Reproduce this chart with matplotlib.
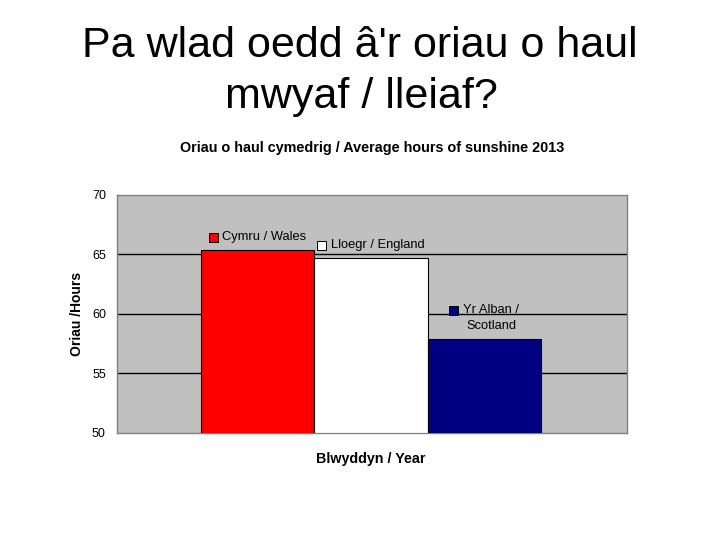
import matplotlib.pyplot as plt
from matplotlib.offsetbox import AnnotationBbox, HPacker, TextArea, DrawingArea
from matplotlib.patches import Rectangle

plt.rcParams['font.family'] = ['Liberation Sans', 'DejaVu Sans']

# Data
countries = ['Cymru / Wales', 'Lloegr / England', 'Yr Alban /\nScotland']
hours = [65.4, 64.7, 57.9]
colors = ['#FF0000', '#FFFFFF', '#000080']
yticks = [50, 55, 60, 65, 70]

fig = plt.figure(figsize=(7.2, 5.4), dpi=100)
ax = fig.add_axes([117 / 720, 1 - 433 / 540, 510 / 720, 238 / 540])

ax.set_facecolor('#C0C0C0')
xs = range(len(countries))
bars = ax.bar(xs, [h - 50 for h in hours], bottom=50, width=1.0,
              color=colors, edgecolor='black', linewidth=0.8, zorder=3)

ax.set_ylim(50, 70)
ax.set_xlim(-1.24, 3.26)
ax.set_yticks(yticks)
ax.set_yticklabels([str(t) for t in yticks], fontsize=9)
ax.set_xticks([])
ax.tick_params(axis='y', length=0, pad=8)
for t in [55, 60, 65]:
    ax.axhline(t, color='black', linewidth=1, zorder=1)
for s in ax.spines.values():
    s.set_color('#808080')
    s.set_linewidth(1)

# labels above each bar with small colour square
for i, (name, h, c) in enumerate(zip(countries, hours, colors)):
    da = DrawingArea(8, 8, 0, 0)
    da.add_artist(Rectangle((0, 0), 6.5, 6.5, facecolor=c, edgecolor='black', linewidth=0.7))
    ta = TextArea(name, textprops=dict(fontsize=9.3, ha='center', multialignment='center',
                                       linespacing=1.43))
    pack = HPacker(children=[da, ta], align='top', pad=0, sep=2)
    ab = AnnotationBbox(pack, (i, h), xybox=(0, 5), boxcoords='offset points',
                        frameon=False, box_alignment=(0.5, 0), zorder=4)
    ax.add_artist(ab)

fig.text(0.5, 1 - 57 / 540, "Pa wlad oedd â'r oriau o haul", fontsize=31,
         ha='center', va='baseline')
fig.text(0.502, 1 - 108 / 540, "mwyaf / lleiaf?", fontsize=31, ha='center', va='baseline')
fig.text(0.517, 1 - 148 / 540, 'Oriau o haul cymedrig / Average hours of sunshine 2013',
         fontsize=10.4, fontweight='bold', ha='center', va='center')
fig.text(77 / 720, 1 - 314 / 540, 'Oriau /Hours', fontsize=10, fontweight='bold',
         rotation=90, ha='center', va='center')
fig.text(371 / 720, 1 - 459 / 540, 'Blwyddyn / Year', fontsize=10.3, fontweight='bold',
         ha='center', va='center')

fig.savefig('out.png', dpi=100)
